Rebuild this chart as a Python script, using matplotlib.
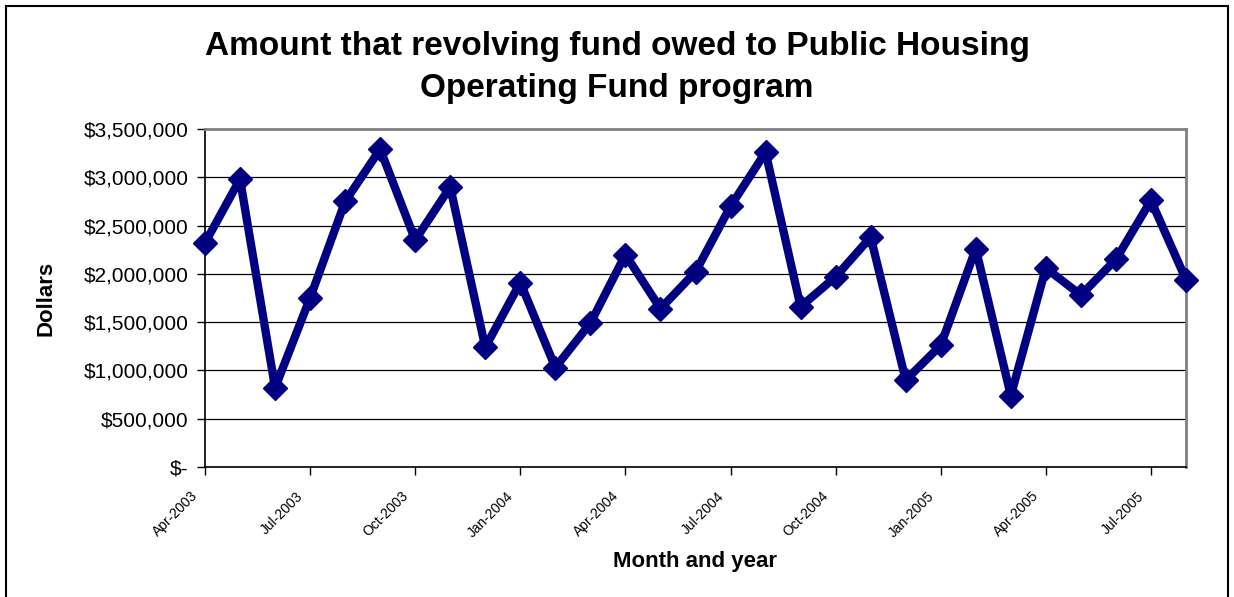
import matplotlib
matplotlib.use("Agg")
import matplotlib.pyplot as plt
from matplotlib.patches import Rectangle
from matplotlib.transforms import ScaledTranslation
import numpy as np

months = ["Apr-2003", "May-2003", "Jun-2003", "Jul-2003", "Aug-2003", "Sep-2003",
          "Oct-2003", "Nov-2003", "Dec-2003", "Jan-2004", "Feb-2004", "Mar-2004",
          "Apr-2004", "May-2004", "Jun-2004", "Jul-2004", "Aug-2004", "Sep-2004",
          "Oct-2004", "Nov-2004", "Dec-2004", "Jan-2005", "Feb-2005", "Mar-2005",
          "Apr-2005", "May-2005", "Jun-2005", "Jul-2005", "Aug-2005"]
amounts = [2320000, 2980000, 820000, 1750000, 2750000, 3290000,
           2350000, 2900000, 1240000, 1910000, 1030000, 1490000,
           2200000, 1640000, 2020000, 2700000, 3260000, 1660000,
           1970000, 2380000, 900000, 1260000, 2260000, 740000,
           2060000, 1780000, 2150000, 2760000, 1940000]
y_ticks = [0, 500000, 1000000, 1500000, 2000000, 2500000, 3000000, 3500000]
y_tick_labels = ["$-", "$500,000", "$1,000,000", "$1,500,000", "$2,000,000",
                 "$2,500,000", "$3,000,000", "$3,500,000"]

plt.rcParams['font.family'] = ['Liberation Sans', 'DejaVu Sans']

fig = plt.figure(figsize=(12.34, 5.97), dpi=100)
fig.patches.append(Rectangle((6/1234, -0.05), 1222/1234, 1 - 6/597 + 0.05,
                             transform=fig.transFigure, fill=False,
                             edgecolor='black', linewidth=1.5))

ax = fig.add_axes([205/1234, 1 - 467/597, 981/1234, 338/597])
x = np.arange(len(months))
ax.plot(x, amounts, color='#000080', linewidth=6, marker='D',
        markersize=12, markeredgewidth=1, markeredgecolor='#000080',
        clip_on=False, zorder=5)

ax.set_xlim(0, len(months) - 1)
ax.set_ylim(0, 3500000)
ax.set_yticks(y_ticks)
ax.set_yticklabels(y_tick_labels, fontsize=15)
tick_idx = list(range(0, len(months), 3))
ax.set_xticks(tick_idx)
ax.tick_params(axis='x', labelbottom=False)
offset = ScaledTranslation(-14/100, -22/100, fig.dpi_scale_trans)
for i in tick_idx:
    ax.text(x[i], 0, months[i], transform=ax.get_xaxis_transform() + offset,
            rotation=45, ha='right', va='top', rotation_mode='anchor',
            fontsize=10, clip_on=False)
ax.tick_params(axis='both', direction='out', length=6, width=1, color='black')
ax.tick_params(axis='y', pad=6)

ax.grid(axis='y', color='black', linewidth=0.9)
ax.set_axisbelow(True)
for s in ['top', 'right']:
    ax.spines[s].set_color('#808080')
    ax.spines[s].set_linewidth(2)
for s in ['left', 'bottom']:
    ax.spines[s].set_color('black')
    ax.spines[s].set_linewidth(1.2)

fig.text(617/1234, 1 - 46/597, "Amount that revolving fund owed to Public Housing",
         ha='center', va='center', fontsize=24, fontweight='bold')
fig.text(617/1234, 1 - 88/597, "Operating Fund program",
         ha='center', va='center', fontsize=24, fontweight='bold')
fig.text(46/1234, 1 - 298/597, "Dollars", rotation=90, ha='center', va='center',
         fontsize=16, fontweight='bold')
fig.text(695/1234, 1 - 562/597, "Month and year", ha='center', va='center',
         fontsize=16, fontweight='bold')

fig.savefig("out.png", dpi=100)
